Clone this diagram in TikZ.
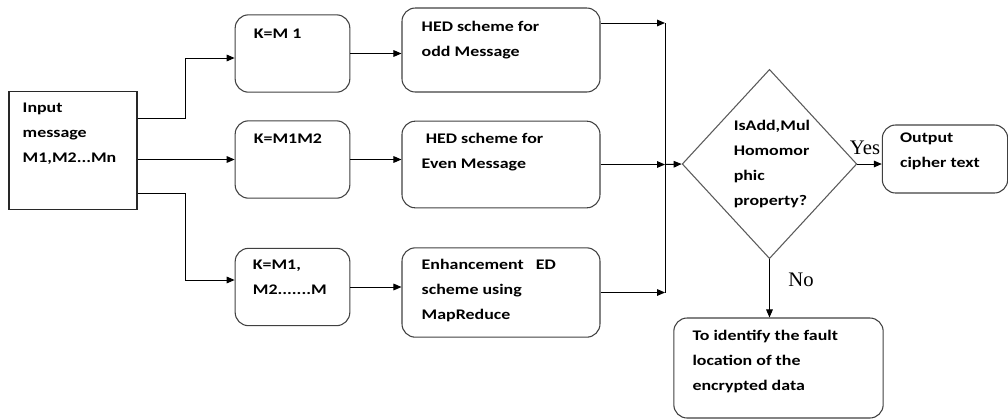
\documentclass[tikz,border=0pt]{standalone}
\usepackage{fontspec}
\setmainfont{Liberation Serif}
\newfontfamily\boxfont{Carlito}[FakeStretch=1.22]
\usetikzlibrary{shapes.geometric,arrows.meta,positioning,calc}

\tikzset{
  box/.style={draw={rgb,255:red,64;green,64;blue,64}, line width=0.8pt, rounded corners=10pt, inner sep=0pt},
  sqbox/.style={draw={rgb,255:red,40;green,40;blue,40}, line width=0.8pt, inner sep=0pt},
  txt/.style={anchor=north west, inner sep=0.75pt, align=left, font=\boxfont\bfseries\fontsize{11}{18.75}\selectfont},
  lbl/.style={inner sep=0.75pt, font=\fontsize{15.5}{18}\selectfont},
  arr/.style={line width=0.75pt, -{Triangle[length=6pt,width=5pt]}},
  ln/.style={line width=0.75pt}
}

\begin{document}
\begin{tikzpicture}[x=0.75pt,y=0.75pt,yscale=-1,xscale=1]
\useasboundingbox (0,0) rectangle (1008,419);

%Shapes
\node[sqbox, minimum width=96pt, minimum height=88pt] (inp) at (73,150.5) {};
\node[box, minimum width=86pt, minimum height=58pt] (k1) at (292.5,53.5) {};
\node[box, minimum width=86pt, minimum height=58pt] (k2) at (292.5,159.5) {};
\node[box, minimum width=86pt, minimum height=58pt] (k3) at (292.5,287) {};
\node[box, minimum width=148.5pt, minimum height=63pt] (hed1) at (501,50) {};
\node[box, minimum width=148.5pt, minimum height=65pt] (hed2) at (501,164.5) {};
\node[box, minimum width=148.5pt, minimum height=67pt] (hed3) at (501,292.5) {};
\node[draw={rgb,255:red,90;green,90;blue,90}, line width=0.8pt, diamond, inner sep=0pt,
      minimum width=131pt, minimum height=142pt] (dec) at (769.5,164) {};
\node[box, minimum width=94pt, minimum height=51pt] (out) at (945,159) {};
\node[box, minimum width=157pt, minimum height=75pt] (fault) at (778.5,368) {};
\coordinate (bar) at (665,0);
\coordinate (h1out) at ($(hed1.east)+(0,-27)$);

% Text Node
\node[txt] (tinp) at ([shift={(13,10)}]inp.north west) {Input\\message\\M1,M2...Mn};
% Text Node
\node[txt] (tk1) at ([shift={(18,13)}]k1.north west) {K=M 1};
% Text Node
\node[txt] (tk2) at ([shift={(18,12)}]k2.north west) {K=M1M2};
% Text Node
\node[txt] (tk3) at ([shift={(17,11)}]k3.north west) {K=M1,\\M2.......M};
% Text Node
\node[txt] (th1) at ([shift={(19,12)}]hed1.north west) {HED scheme for\\odd Message};
% Text Node
\node[txt] (th2) at ([shift={(19,11)}]hed2.north west) {\ HED scheme for\\Even Message};
% Text Node
\node[txt] (th3) at ([shift={(19,11)}]hed3.north west) {Enhancement\ \ \ ED\\scheme using\\MapReduce};
% Text Node
\node[txt] (tdec) at ([shift={(-37,-45)}]dec.center) {IsAdd,Mul\\Homomor\\phic\\property?};
% Text Node
\node[txt] (tout) at ([shift={(17,7)}]out.north west) {Output\\cipher text};
% Text Node
\node[txt] (tfault) at ([shift={(18,11)}]fault.north west) {To identify the fault\\location of the\\encrypted data};
% Text Node
\node[lbl] (yes) at (865,148) {Yes};
% Text Node
\node[lbl] (no) at (801,280) {No};

%Straight Lines
\draw[arr] ($(inp.east)+(0,-32.5)$) -- ++(48,0) |- ($(k1.west)+(0,4.5)$);
\draw[arr] (k2.west -| inp.east) -- (k2.west);
\draw[arr] ($(inp.east)+(0,42.5)$) -- ++(48,0) |- ($(k3.west)+(0,-7)$);
\draw[arr] (k1.east) -- (k1.east -| hed1.west);
\draw[arr] (k2.east) -- (k2.east -| hed2.west);
\draw[arr] (k3.east) -- (k3.east -| hed3.west);
\draw[arr] (h1out) -- (h1out -| bar);
\draw[arr] (hed2.east) -- (hed2.east -| bar);
\draw[arr] (hed3.east) -- (hed3.east -| bar);
\draw[ln] (h1out -| bar) -- (hed3.east -| bar);
\draw[arr] (hed2.east -| bar) -- (dec.west);
\draw[arr] (dec.east) -- (dec.east -| out.west);
\draw[arr] (dec.south) -- (dec.south |- fault.north);

\end{tikzpicture}
\end{document}
